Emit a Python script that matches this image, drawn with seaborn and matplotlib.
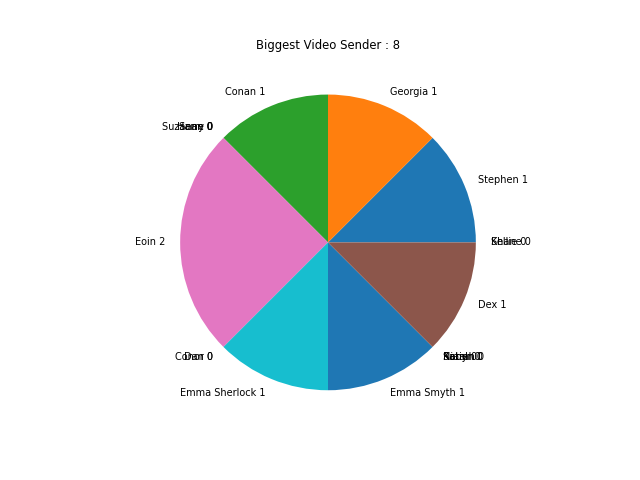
import matplotlib
matplotlib.use("Agg")
import matplotlib.pyplot as plt
import seaborn as sns

names = ["Stephen", "Georgia", "Conan", "Suzanne", "Sean", "Harry", "Eoin",
         "Conor", "Dan", "Emma Sherlock", "Emma Smyth", "Sarah", "Robyn",
         "Katie", "Niamh", "Dex", "Shane", "Kellie"]
counts = [1, 1, 1, 0, 0, 0, 2, 0, 0, 1, 1, 0, 0, 0, 0, 1, 0, 0]
labels = [f"{n} {c}" for n, c in zip(names, counts)]
total = sum(counts)

colors = sns.color_palette("tab10", 10)

fig, ax = plt.subplots(figsize=(6.4, 4.8), dpi=100)
ax.pie(counts, labels=labels, colors=[colors[i % 10] for i in range(len(counts))],
       textprops={"fontsize": 7})
ax.set_title(f"Biggest Video Sender : {total}", fontsize=8.4)
fig.savefig("out.png")
